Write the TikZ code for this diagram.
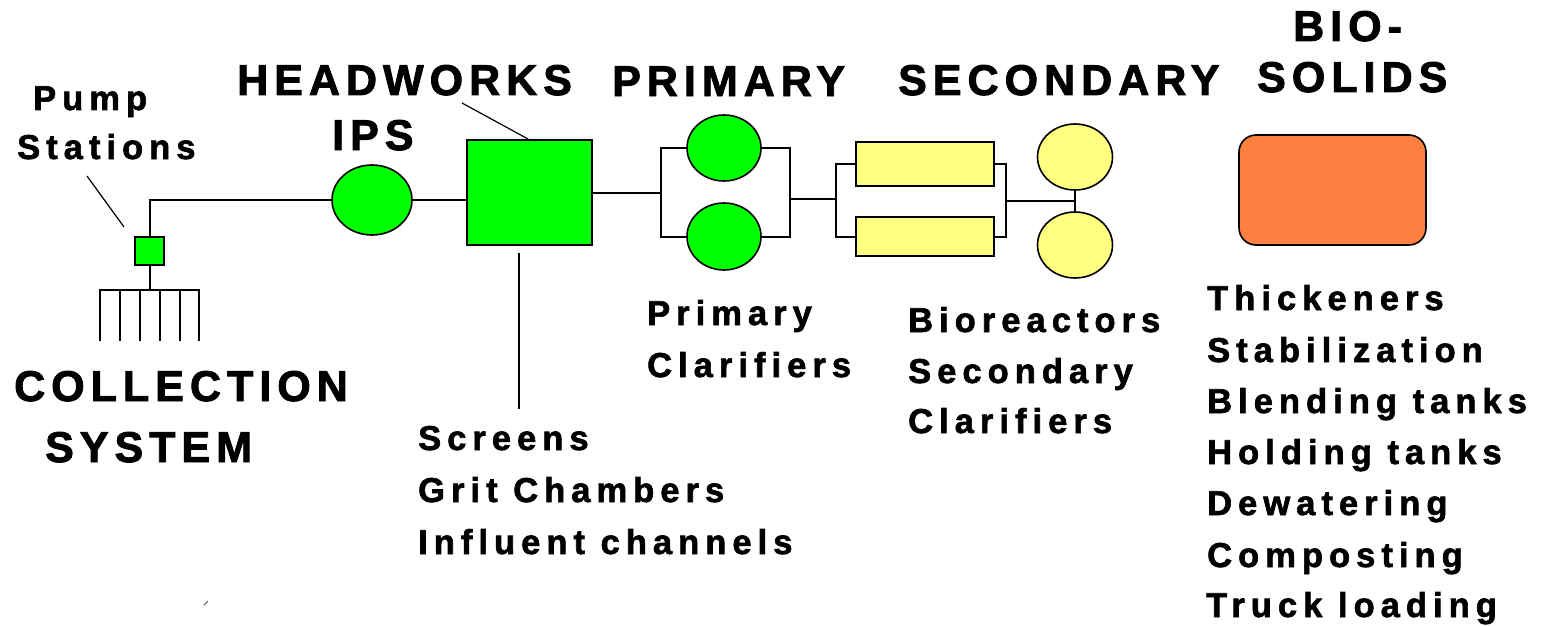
\documentclass[tikz,border=0pt]{standalone}
\usepackage{fontspec}
\setmainfont{Liberation Sans}
\newfontfamily\smallf{Liberation Sans}[LetterSpace=17.5,FakeBold=1.8]
\newfontfamily\bigf{Liberation Sans}[LetterSpace=14,FakeBold=2]
\usetikzlibrary{shapes.geometric}
\definecolor{grn}{RGB}{0,255,0}
\definecolor{ylw}{RGB}{255,255,128}
\definecolor{org}{RGB}{255,128,64}
\begin{document}
\begin{tikzpicture}[x=1pt,y=-1pt,
  pipe/.style={line width=2pt,black},
  ptr/.style={line width=1.2pt,black},
  unit/.style={draw=black,line width=1.6pt,inner sep=0pt},
  lbl/.style={anchor=base west,inner sep=0pt,font=\smallf\bfseries\fontsize{34.5}{40}\selectfont},
  hdr/.style={anchor=base west,inner sep=0pt,font=\bigf\bfseries\fontsize{43}{50}\selectfont}]
\useasboundingbox[fill=white] (0,0) rectangle (1542,626);

% units
\node[unit,rectangle,fill=grn,minimum width=29,minimum height=28] (pump) at (149.5,251) {};
\node[unit,ellipse,fill=grn,minimum width=80,minimum height=70] (ips) at (372,200) {};
\node[unit,rectangle,fill=grn,minimum width=125,minimum height=105] (hw) at (529.5,192.5) {};
\node[unit,ellipse,fill=grn,minimum width=74,minimum height=66] (p1) at (724,148) {};
\node[unit,ellipse,fill=grn,minimum width=74,minimum height=67] (p2) at (724,236.5) {};
\node[unit,rectangle,fill=ylw,minimum width=138,minimum height=44] (r1) at (925,164) {};
\node[unit,rectangle,fill=ylw,minimum width=138,minimum height=39] (r2) at (925,236.5) {};
\node[unit,ellipse,fill=ylw,minimum width=75,minimum height=66] (s1) at (1075,157) {};
\node[unit,ellipse,fill=ylw,minimum width=75,minimum height=66] (s2) at (1075,245) {};
\node[unit,rectangle,rounded corners=17pt,fill=org,minimum width=187,minimum height=110] (bio) at (1332.5,190) {};

% junction coordinates
\coordinate (bl) at (661,195);
\coordinate (br) at (790,199);
\coordinate (bl2) at (836,199);
\coordinate (br2) at (1006,201);
\coordinate (cb) at (149.5,290);
\coordinate (hwu) at (519,253);
\coordinate (hwd) at (519,409);
\coordinate (pp1) at (87,176);
\coordinate (pp2) at (124,227);
\coordinate (hp1) at (462,103);
\coordinate (hp2) at (528,139);

% connectors
\draw[pipe] (pump.north) |- (ips.west);
\draw[pipe] (ips.east) -- (ips.east -| hw.west);
\draw[pipe] (hw.east) -- (hw.east -| bl);
\draw[pipe] (p1.west) -| (bl) |- (p2.west);
\draw[pipe] (p1.east) -| (br) |- (p2.east);
\draw[pipe] (br) -- (bl2);
\draw[pipe] (r1.west) -| (bl2) |- (r2.west);
\draw[pipe] (r1.east) -| (br2) |- (r2.east);
\draw[pipe] (br2) -- (br2 -| s1.south);
\draw[pipe] (s1.south) -- (s2.north);
\draw[pipe] (pump.south) -- (cb);
\draw[pipe] (hwu) -- (hwd);
\draw[ptr] (pp1) -- (pp2);
\draw[ptr] (hp1) -- (hp2);

% collection system pipes
\draw[pipe] (99,290) -- (200,290);
\foreach \x in {100,120,140,160,180,199} \draw[pipe] (\x,289) -- (\x,341);

% tiny mark
\draw[line width=1pt,black!70] (204,605) -- (208,601);

% headers
\node[hdr] (hHW) at (237,95) {HEADWORKS};
\node[hdr] (hIPS) at (332,150) {IPS};
\node[hdr] (hPR) at (612,96) {PRIMARY};
\node[hdr] (hSE) at (898,95) {SECONDARY};
\node[hdr] (hBIO) at (1293,41) {BIO-};
\node[hdr] (hSO) at (1257,92) {SOLIDS};
\node[hdr] (hCO) at (14,401) {COLLECTION};
\node[hdr] (hSY) at (45,462) {SYSTEM};

% labels
\node[lbl] (tPump) at (33,110) {Pump};
\node[lbl] (tSta) at (17,159) {Stations};
\node[lbl] (tScr) at (418,450) {Screens};
\node[lbl] (tGrit) at (418,502) {Grit Chambers};
\node[lbl] (tInf) at (418,554) {Influent channels};
\node[lbl] (tPri) at (647,325) {Primary};
\node[lbl] (tCl1) at (647,377) {Clarifiers};
\node[lbl] (tBio) at (908,332) {Bioreactors};
\node[lbl] (tSec) at (908,383) {Secondary};
\node[lbl] (tCl2) at (908,433) {Clarifiers};
\node[lbl] (b1) at (1207,310) {Thickeners};
\node[lbl] (b2) at (1207,362) {Stabilization};
\node[lbl] (b3) at (1207,413) {Blending tanks};
\node[lbl] (b4) at (1207,464) {Holding tanks};
\node[lbl] (b5) at (1207,515) {Dewatering};
\node[lbl] (b6) at (1207,567) {Composting};
\node[lbl] (b7) at (1206,617) {Truck loading};
\end{tikzpicture}
\end{document}
